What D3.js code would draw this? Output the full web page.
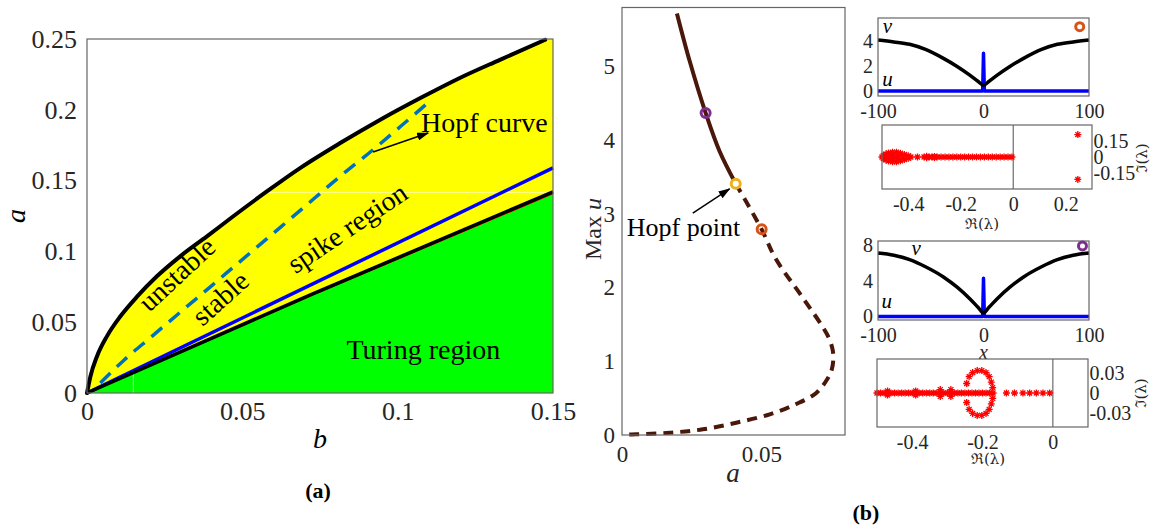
<!DOCTYPE html>
<html>
<head>
<meta charset="utf-8">
<script src="https://cdn.jsdelivr.net/npm/d3@7"></script>
<style>
  body { margin: 0; background: #fff; }
  svg { display: block; }
</style>
</head>
<body>
<svg id="fig" width="1157" height="527"></svg>
<script>
// ---------- panel (a): (b, a) parameter plane ----------
const stabB  = [0, 0.0011, 0.0032, 0.0064, 0.0107, 0.0161, 0.0225, 0.030, 0.0386, 0.0472, 0.058, 0.0687, 0.0815, 0.0944, 0.1073, 0.120, 0.1329, 0.1475];
const stabA  = [0, 0.0117, 0.0258, 0.040, 0.054, 0.068, 0.0824, 0.0965, 0.1106, 0.1250, 0.1425, 0.159, 0.1765, 0.193, 0.2083, 0.2225, 0.2353, 0.2495];
const turingB = [0, 0.0721, 0.15];
const turingA = [0, 0.0695, 0.142];
const turingRedA = [0, 0.0688, 0.1408];
const spikeB = [0, 0.15];
const spikeA = [0, 0.159];
const hopfB = [0.0043, 0.0118, 0.0209, 0.030, 0.0397, 0.0488, 0.059, 0.0676, 0.0826, 0.0922, 0.1008, 0.1095];
const hopfA = [0.007, 0.023, 0.040, 0.057, 0.075, 0.092, 0.111, 0.127, 0.155, 0.172, 0.188, 0.2045];
const ticksAx = [0, 0.05, 0.1, 0.15];
const ticksAy = [0, 0.05, 0.1, 0.15, 0.2, 0.25];

// ---------- panel (b): bifurcation branch Max u vs a ----------
const branchStableA = [0.0197, 0.0243, 0.030, 0.035, 0.0408];
const branchStableU = [5.72, 5.07, 4.37, 3.85, 3.41];
const branchUnstA = [0.0408, 0.0501, 0.055, 0.0649, 0.0721, 0.0744, 0.0756, 0.0758, 0.0752, 0.0735, 0.0697, 0.0625, 0.053, 0.041, 0.029, 0.0171, 0.0052, 0];
const branchUnstU = [3.41, 2.79, 2.40, 1.86, 1.46, 1.30, 1.15, 1.02, 0.88, 0.75, 0.57, 0.42, 0.28, 0.167, 0.077, 0.031, 0.01, 0.005];
const markA = [0.030, 0.0408, 0.0501];
const markU = [4.37, 3.41, 2.79];
const markColor = ["#7E2F8E", "#EDB120", "#D95319"];
const ticksBx = [0, 0.05];
const ticksBy = [0, 1, 2, 3, 4, 5];

// ---------- profiles u(x), v(x) ----------
const profX = [-100, -85, -70, -55, -38, -25, -13, -5, 0, 5, 13, 25, 38, 55, 70, 85, 100];
const profV1 = [4.05, 3.9, 3.71, 3.3, 2.59, 1.95, 1.26, 0.75, 0.46, 0.75, 1.26, 1.95, 2.59, 3.3, 3.71, 3.9, 4.05];
const profV2 = [7.15, 6.9, 6.4, 5.6, 4.45, 3.3, 2.0, 1.0, 0.4, 1.0, 2.0, 3.3, 4.45, 5.6, 6.4, 6.9, 7.15];
const spikeX = [-100, -0.8, 0, 0.8, 100];
const spikeU1 = [0, 0, 3.0, 0, 0];
const spikeU2 = [0, 0, 4.3, 0, 0];
const ticksProfX = [-100, 0, 100];

// ---------- eigenvalue spectra (Re, Im) ----------
const eigSpec1 = [
  [-0.50, 0], [-0.495, 0.015], [-0.495, -0.015], [-0.485, 0.028], [-0.485, -0.028],
  [-0.475, 0.038], [-0.475, -0.038], [-0.46, 0.045], [-0.46, -0.045], [-0.445, 0.044],
  [-0.445, -0.044], [-0.43, 0.036], [-0.43, -0.036], [-0.415, 0.024], [-0.415, -0.024],
  [-0.40, 0.012], [-0.40, -0.012], [-0.39, 0], [-0.48, 0], [-0.46, 0.015], [-0.46, -0.015],
  [-0.44, 0.015], [-0.44, -0.015], [-0.42, 0], [-0.45, 0], [-0.47, 0.02], [-0.47, -0.02],
  [-0.365, 0], [-0.34, 0], [-0.33, 0.006], [-0.33, -0.006], [-0.32, 0], [-0.31, 0],
  [-0.30, 0.005], [-0.30, -0.005], [-0.29, 0], [-0.275, 0], [-0.26, 0], [-0.245, 0],
  [-0.23, 0], [-0.215, 0], [-0.20, 0], [-0.185, 0], [-0.17, 0], [-0.155, 0], [-0.14, 0],
  [-0.125, 0], [-0.11, 0], [-0.095, 0], [-0.08, 0], [-0.065, 0], [-0.05, 0], [-0.035, 0],
  [-0.02, 0], [-0.005, 0],
  [0.246, 0.21], [0.246, -0.21]
];
const eigSpec2 = [
  [-0.50, 0], [-0.49, 0], [-0.48, 0], [-0.47, 0], [-0.46, 0], [-0.45, 0], [-0.44, 0],
  [-0.43, 0], [-0.42, 0], [-0.41, 0], [-0.40, 0], [-0.39, 0], [-0.38, 0], [-0.37, 0],
  [-0.36, 0], [-0.35, 0], [-0.34, 0], [-0.33, 0], [-0.32, 0], [-0.31, 0], [-0.30, 0],
  [-0.29, 0], [-0.28, 0], [-0.27, 0], [-0.26, 0], [-0.25, 0], [-0.24, 0], [-0.23, 0],
  [-0.22, 0], [-0.21, 0], [-0.20, 0], [-0.19, 0], [-0.18, 0], [-0.17, 0],
  [-0.47, 0.003], [-0.47, -0.003], [-0.39, 0.003], [-0.39, -0.003],
  [-0.32, 0.005], [-0.32, -0.005], [-0.29, 0.005], [-0.29, -0.005],
  [-0.245, 0.014], [-0.238, 0.024], [-0.228, 0.030], [-0.215, 0.033], [-0.202, 0.033],
  [-0.19, 0.030], [-0.181, 0.024], [-0.175, 0.016], [-0.171, 0.008],
  [-0.245, -0.014], [-0.238, -0.024], [-0.228, -0.030], [-0.215, -0.033], [-0.202, -0.033],
  [-0.19, -0.030], [-0.181, -0.024], [-0.175, -0.016], [-0.171, -0.008],
  [-0.132, 0], [-0.109, 0], [-0.085, 0], [-0.066, 0], [-0.047, 0], [-0.028, 0], [-0.009, 0]
];
const ticksE1x = [-0.4, -0.2, 0, 0.2];
const ticksE1y = [-0.15, 0, 0.15];
const ticksE2x = [-0.4, -0.2, 0];
const ticksE2y = [-0.03, 0, 0.03];

// ---------- drawing ----------
const FONT = '"Liberation Serif","DejaVu Serif",serif';
const SYMF = '"DejaVu Serif","Liberation Serif",serif';
const INK = "#262626";
const BOX = "#666";
const svg = d3.select("#fig");

const defs = svg.append("defs");
defs.append("marker").attr("id", "arrowHead")
  .attr("viewBox", "0 0 12 8").attr("refX", 11).attr("refY", 4)
  .attr("markerWidth", 12).attr("markerHeight", 8)
  .attr("markerUnits", "userSpaceOnUse").attr("orient", "auto")
  .append("path").attr("d", "M0,0 L12,4 L0,8 Z").attr("fill", "#000");

const fmt = d => (d < 0 ? "-" + String(Math.abs(d)) : String(d));

function styleAxis(g, size) {
  g.select(".domain").remove();
  g.attr("font-family", FONT).attr("font-size", size);
  g.selectAll("text").attr("fill", INK);
}

function box(g, x, y) {
  g.append("rect")
    .attr("x", x.range()[0]).attr("y", y.range()[1])
    .attr("width", x.range()[1] - x.range()[0])
    .attr("height", y.range()[0] - y.range()[1])
    .attr("fill", "none").attr("stroke", BOX).attr("stroke-width", 1.2);
}

// ===== panel (a) =====
{
  const g = svg.append("g");
  const x = d3.scaleLinear().domain([0, 0.15]).range([87, 553]);
  const y = d3.scaleLinear().domain([0, 0.25]).range([393, 39]);
  const straight = d3.line().x(d => x(d[0])).y(d => y(d[1]));
  const smooth = d3.line().x(d => x(d[0])).y(d => y(d[1])).curve(d3.curveMonotoneX);

  const upper = d3.zip(stabB, stabA);
  const turing = d3.zip(turingB, turingA);
  const lastT = turing[turing.length - 1];

  // yellow: between the existence boundary and the Turing boundary
  let yellow = smooth(upper) + `L${x(0.15)},${y(0.25)}L${x(0.15)},${y(lastT[1])}`;
  turing.slice().reverse().forEach(p => { yellow += `L${x(p[0])},${y(p[1])}`; });
  g.append("path").attr("d", yellow + "Z").attr("fill", "#ffff00");

  // green: Turing region
  const green = straight(turing) + `L${x(0.15)},${y(0)}L${x(0)},${y(0)}Z`;
  g.append("path").attr("d", green).attr("fill", "#00ff00");

  // patch seams
  g.append("line").attr("x1", x(0.057)).attr("x2", x(0.15)).attr("y1", y(lastT[1]) + 0.5).attr("y2", y(lastT[1]) + 0.5)
    .attr("stroke", "#ffffb8").attr("stroke-width", 0.8);
  g.append("line").attr("x1", x(0.0149)).attr("x2", x(0.0149)).attr("y1", y(0.0149 * 0.96)).attr("y2", y(0))
    .attr("stroke", "#b8ffb8").attr("stroke-width", 0.8);

  g.append("path").attr("d", straight(d3.zip(turingB, turingRedA)))
    .attr("fill", "none").attr("stroke", "#ff0000").attr("stroke-width", 1.5);
  g.append("path").attr("d", straight(d3.zip(spikeB, spikeA)))
    .attr("fill", "none").attr("stroke", "#0000ff").attr("stroke-width", 3.5);
  g.append("path").attr("d", straight(turing))
    .attr("fill", "none").attr("stroke", "#000").attr("stroke-width", 3.5);
  g.append("path").attr("d", smooth(d3.zip(hopfB, hopfA)))
    .attr("fill", "none").attr("stroke", "#0072BD").attr("stroke-width", 3.5)
    .attr("stroke-dasharray", "14,9");
  g.append("path").attr("d", smooth(upper))
    .attr("fill", "none").attr("stroke", "#000").attr("stroke-width", 4)
    .attr("stroke-linecap", "round");

  box(g, x, y);

  g.append("g").attr("transform", `translate(0,${y(0)})`)
    .call(d3.axisBottom(x).tickValues(ticksAx).tickFormat(fmt).tickSize(0).tickPadding(9))
    .call(a => styleAxis(a, 26));
  g.append("g").attr("transform", `translate(${x(0)},0)`)
    .call(d3.axisLeft(y).tickValues(ticksAy).tickFormat(fmt).tickSize(0).tickPadding(10))
    .call(a => styleAxis(a, 26));

  const t = (txt, px, py, rot, opts = {}) => g.append("text")
    .attr("transform", `translate(${px},${py}) rotate(${rot})`)
    .attr("text-anchor", opts.anchor || "middle")
    .attr("font-family", FONT).attr("font-size", opts.size || 28)
    .attr("font-style", opts.italic ? "italic" : null)
    .attr("font-weight", opts.bold ? "bold" : null)
    .attr("fill", "#000").text(txt);

  t("unstable", x(0.031), y(0.079), -43);
  t("stable", x(0.045), y(0.062), -42);
  t("spike region", x(0.0855), y(0.111), -34);
  t("Hopf curve", x(0.1075), y(0.1840), 0, { anchor: "start" });
  t("Turing region", x(0.0835), y(0.0240), 0, { anchor: "start" });

  g.append("line")
    .attr("x1", x(0.0921)).attr("y1", y(0.1702))
    .attr("x2", x(0.1098)).attr("y2", y(0.1836))
    .attr("stroke", "#000").attr("stroke-width", 1.5)
    .attr("marker-end", "url(#arrowHead)");

  t("b", 320, 448, 0, { italic: true, size: 28 });
  t("a", 25, 216, -90, { italic: true, size: 28 });
  t("(a)", 318, 498, 0, { bold: true, size: 22 });
}

// ===== panel (b) main =====
{
  const g = svg.append("g");
  const x = d3.scaleLinear().domain([0, 0.08]).range([622, 845]);
  const y = d3.scaleLinear().domain([0, 5.8]).range([435, 7.5]);
  const curve = d3.line().x(d => x(d[0])).y(d => y(d[1])).curve(d3.curveCatmullRom.alpha(0.5));
  const brown = "#4a180a";

  g.append("path").attr("d", curve(d3.zip(branchUnstA, branchUnstU)))
    .attr("fill", "none").attr("stroke", brown).attr("stroke-width", 4)
    .attr("stroke-dasharray", "10,7");
  g.append("path").attr("d", curve(d3.zip(branchStableA, branchStableU)))
    .attr("fill", "none").attr("stroke", brown).attr("stroke-width", 4);

  g.selectAll("circle.mark").data(d3.zip(markA, markU, markColor)).join("circle")
    .attr("class", "mark")
    .attr("cx", d => x(d[0])).attr("cy", d => y(d[1])).attr("r", 4.5)
    .attr("fill", (d, i) => (i === 1 ? "#fff" : "none"))
    .attr("stroke", d => d[2]).attr("stroke-width", 3);

  box(g, x, y);

  g.append("g").attr("transform", `translate(0,${y(0)})`)
    .call(d3.axisBottom(x).tickValues(ticksBx).tickFormat(fmt).tickSize(0).tickPadding(11))
    .call(a => styleAxis(a, 23));
  g.append("g").attr("transform", `translate(${x(0)},0)`)
    .call(d3.axisLeft(y).tickValues(ticksBy).tickFormat(fmt).tickSize(0).tickPadding(7))
    .call(a => styleAxis(a, 23));

  g.append("text").attr("x", x(0.0017)).attr("y", y(2.70))
    .attr("font-family", FONT).attr("font-size", 26).attr("fill", "#000").text("Hopf point");
  g.append("line")
    .attr("x1", x(0.0254)).attr("y1", y(3.01))
    .attr("x2", x(0.0386)).attr("y2", y(3.34))
    .attr("stroke", "#000").attr("stroke-width", 1.5)
    .attr("marker-end", "url(#arrowHead)");

  g.append("text").attr("x", 733).attr("y", 482).attr("text-anchor", "middle")
    .attr("font-family", FONT).attr("font-size", 27).attr("font-style", "italic").attr("fill", INK).text("a");
  const yl = g.append("text").attr("transform", "translate(601,229) rotate(-90)")
    .attr("text-anchor", "middle").attr("font-family", FONT).attr("font-size", 24).attr("fill", INK);
  yl.append("tspan").text("Max ");
  yl.append("tspan").attr("font-style", "italic").text("u");

  g.append("text").attr("x", 866).attr("y", 520).attr("text-anchor", "middle")
    .attr("font-family", FONT).attr("font-size", 22).attr("font-weight", "bold").attr("fill", "#000").text("(b)");
}

// ===== profile panels =====
function profilePanel(cfg) {
  const g = svg.append("g");
  const x = d3.scaleLinear().domain([-100, 100]).range([878, 1089]);
  const y = d3.scaleLinear().domain(cfg.ydom).range(cfg.yrange);
  const ln = d3.line().x(d => x(d[0])).y(d => y(d[1]));

  g.append("path").attr("d", ln(d3.zip(spikeX, cfg.u)))
    .attr("fill", "none").attr("stroke", "#0000ff").attr("stroke-width", 3.5)
    .attr("stroke-linejoin", "round");
  g.append("path").attr("d", ln.curve(d3.curveMonotoneX)(d3.zip(profX, cfg.v)))
    .attr("fill", "none").attr("stroke", "#000").attr("stroke-width", 3.5)
    .attr("stroke-linejoin", "round");

  box(g, x, y);
  g.append("circle").attr("cx", x(cfg.mark[0])).attr("cy", y(cfg.mark[1])).attr("r", 4)
    .attr("fill", "#fff").attr("stroke", cfg.markColor).attr("stroke-width", 3);

  g.append("g").attr("transform", `translate(0,${y.range()[0]})`)
    .call(d3.axisBottom(x).tickValues(ticksProfX).tickFormat(fmt).tickSize(0).tickPadding(8))
    .call(a => styleAxis(a, 20));
  g.append("g").attr("transform", `translate(${x.range()[0]},0)`)
    .call(d3.axisLeft(y).tickValues(cfg.yticks).tickFormat(fmt).tickSize(0).tickPadding(5))
    .call(a => styleAxis(a, 20));

  const lbl = (txt, p) => g.append("text").attr("x", x(p[0])).attr("y", y(p[1]))
    .attr("font-family", FONT).attr("font-size", 21).attr("font-style", "italic").attr("fill", "#000").text(txt);
  lbl("v", cfg.vPos);
  lbl("u", cfg.uPos);

  g.append("text").attr("x", x(0)).attr("y", y.range()[0] + cfg.xlabOff).attr("text-anchor", "middle")
    .attr("font-family", FONT).attr("font-size", 20).attr("font-style", "italic").attr("fill", INK).text("x");
}

// ===== spectrum panels =====
const asterisk = {
  draw(ctx, size) {
    const r = Math.sqrt(size) / 2, d = r * Math.SQRT1_2;
    ctx.moveTo(-r, 0); ctx.lineTo(r, 0);
    ctx.moveTo(0, -r); ctx.lineTo(0, r);
    ctx.moveTo(-d, -d); ctx.lineTo(d, d);
    ctx.moveTo(-d, d); ctx.lineTo(d, -d);
  }
};

function spectrumPanel(cfg) {
  const g = svg.append("g");
  const x = d3.scaleLinear().domain(cfg.xdom).range(cfg.xrange);
  const y = d3.scaleLinear().domain(cfg.ydom).range(cfg.yrange);

  g.append("rect").attr("x", x.range()[0]).attr("y", y.range()[1])
    .attr("width", x.range()[1] - x.range()[0]).attr("height", y.range()[0] - y.range()[1])
    .attr("fill", "#fff");
  g.append("line").attr("x1", x(0)).attr("x2", x(0)).attr("y1", y.range()[0]).attr("y2", y.range()[1])
    .attr("stroke", "#777").attr("stroke-width", 1.3);

  const sym = d3.symbol().type(asterisk).size(49);
  g.selectAll("path.eig").data(cfg.eig).join("path")
    .attr("class", "eig")
    .attr("transform", d => `translate(${x(d[0])},${y(d[1])})`)
    .attr("d", sym).attr("fill", "none").attr("stroke", "#ff0000").attr("stroke-width", 1.3);

  box(g, x, y);

  g.append("g").attr("transform", `translate(0,${y.range()[0]})`)
    .call(d3.axisBottom(x).tickValues(cfg.xticks).tickFormat(fmt).tickSize(0).tickPadding(8))
    .call(a => styleAxis(a, 20));
  g.append("g").attr("transform", `translate(${x.range()[1]},0)`)
    .call(d3.axisRight(y).tickValues(cfg.yticks).tickFormat(fmt).tickSize(0).tickPadding(1.5))
    .call(a => styleAxis(a, 20));

  g.append("text").attr("x", cfg.reLab[0]).attr("y", cfg.reLab[1]).attr("text-anchor", "middle")
    .attr("font-family", SYMF).attr("font-size", 15).attr("fill", INK).text("\u211C(\u03BB)");
  g.append("text").attr("transform", `translate(${cfg.imLab[0]},${cfg.imLab[1]}) rotate(-90)`)
    .attr("text-anchor", "middle").attr("font-family", SYMF).attr("font-size", 15).attr("fill", INK)
    .text("\u2111(\u03BB)");
}

profilePanel({
  ydom: [-0.4, 5.8], yrange: [96, 18], yticks: [0, 2, 4],
  u: spikeU1, v: profV1, mark: [91.2, 5.11], markColor: "#D95319",
  vPos: [-95.5, 4.6], uPos: [-96, 0.39], xlabOff: 39
});
spectrumPanel({
  xdom: [-0.5, 0.3], xrange: [882, 1092], ydom: [-0.3, 0.3], yrange: [189, 125],
  eig: eigSpec1, xticks: ticksE1x, yticks: ticksE1y,
  reLab: [982, 229], imLab: [1147, 158]
});
profilePanel({
  ydom: [-0.4, 8.5], yrange: [320, 241], yticks: [0, 4, 8],
  u: spikeU2, v: profV2, mark: [93.8, 7.94], markColor: "#7E2F8E",
  vPos: [-68.3, 6.92], uPos: [-96.8, 0.95], xlabOff: 39
});
spectrumPanel({
  xdom: [-0.5, 0.1], xrange: [877, 1088], ydom: [-0.05, 0.05], yrange: [427, 359],
  eig: eigSpec2, xticks: ticksE2x, yticks: ticksE2y,
  reLab: [988, 464], imLab: [1146, 393]
});
</script>
</body>
</html>
